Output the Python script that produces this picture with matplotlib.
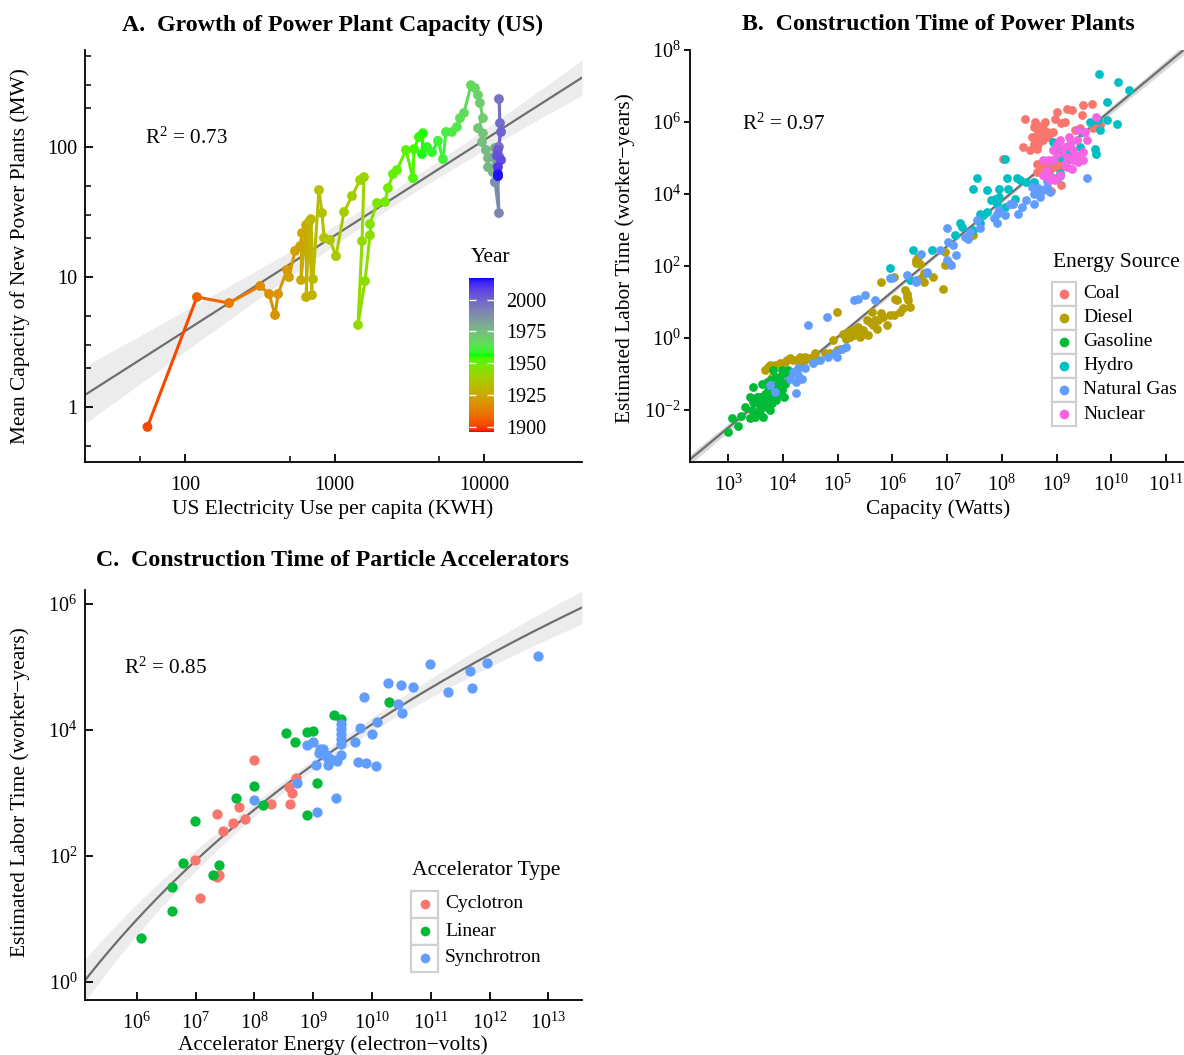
import numpy as np
import matplotlib
matplotlib.use('Agg')
import matplotlib.pyplot as plt
from matplotlib.collections import LineCollection
from matplotlib.colors import ListedColormap, Normalize
from matplotlib.patches import Rectangle
from matplotlib.lines import Line2D
import matplotlib.cm as cm

plt.rcParams['font.family'] = ['Liberation Serif', 'DejaVu Serif']
plt.rcParams['mathtext.fontset'] = 'custom'
plt.rcParams['mathtext.rm'] = 'Liberation Serif'
plt.rcParams['mathtext.it'] = 'Liberation Serif:italic'
plt.rcParams['mathtext.bf'] = 'Liberation Serif:bold'

# ---------------- Panel A data ----------------
years_A = [1902, 1907, 1912, 1917, 1918, 1919, 1920, 1921, 1922, 1923, 1924, 1925, 1926,
           1927, 1928, 1929, 1930, 1931, 1932, 1933, 1934, 1935, 1936, 1937, 1938, 1939,
           1940, 1941, 1942, 1943, 1944, 1945, 1946, 1947, 1948, 1949, 1950, 1951, 1952,
           1953, 1954, 1955, 1956, 1957, 1958, 1959, 1960, 1961, 1962, 1963, 1964, 1965,
           1966, 1967, 1968, 1969, 1970, 1971, 1972, 1973, 1974, 1975, 1976, 1977, 1978,
           1979, 1980, 1982, 1988, 1990, 1992, 1993, 1994, 1996, 1998, 2000,
           2002, 2004, 2006, 2009, 2012, 2015, 2016]
kwh_per_capita = [56, 120, 197, 318, 365, 400, 419, 481, 496, 544, 588, 606, 597,
                  645, 645, 675, 707, 696, 718, 787, 825, 851, 933, 1023, 1158, 1309,
                  1482, 1575, 1528, 1436, 1600, 1727, 1727, 1923, 2176, 2278, 2461, 2618, 3006,
                  3350, 3403, 3674, 3908, 3846, 4155, 4487, 4921, 5318, 5570, 6107, 6592, 6904,
                  7345, 8184, 8706, 9120, 9397, 9842, 9120, 9842, 9700, 10310, 10640, 10640, 11480,
                  11850, 11480, 11850, 11850, 12600, 12300, 12600, 12600, 12600, 12800, 13000,
                  12400, 12220, 13000, 12410, 12410, 12400, 12410]
mean_capacity_mw = [0.70, 6.98, 6.28, 8.49, 7.37, 5.08, 7.37, 11.3, 9.95, 15.8, 17.2, 21.7, 9.44,
                    25.0, 6.98, 26.4, 7.23, 27.8, 9.60, 46.5, 30.9, 19.9, 19.2, 14.4, 31.5, 41.8,
                    55.5, 58.5, 18.8, 4.26, 9.27, 20.9, 25.4, 36.9, 37.6, 48.1, 61.7, 66.2, 94.4,
                    57.4, 96.0, 119, 127, 87.9, 99.5, 91.0, 111, 80.4, 130, 130, 142, 166,
                    182, 298, 283, 250, 217, 166, 139, 127, 109, 94.4, 81.9, 69.8, 63.8,
                    53.5, 83.3, 97.8, 53.5, 30.9, 70, 85, 100, 233, 152, 130,
                    95, 84.9, 79.1, 69.8, 59.6, 62, 59.6]
year_range = [1896, 2017]
cbar_ticks = [1900, 1925, 1950, 1975, 2000]

# ---------------- Panel B data (log10 values) ----------------
coal_log_watts = [8.42, 8.61, 8.64, 8.67, 8.70, 8.73, 8.79, 8.82, 8.85, 8.88, 8.94, 8.97, 9.00, 9.09, 9.16,
                  9.19, 9.28, 9.46, 9.49, 9.64, 9.34, 9.43, 9.67, 9.80, 8.55, 8.58, 8.52, 8.38, 8.03, 8.64,
                  8.70, 8.76, 8.82, 8.88, 8.94, 9.00, 9.09, 9.09, 9.09, 8.90, 8.64, 8.76, 8.61, 8.67, 8.76,
                  9.06, 8.58, 8.76, 8.64]
coal_log_labor = [6.09, 6.00, 5.86, 5.72, 5.63, 5.82, 6.00, 5.72, 5.58, 5.68, 5.72, 6.09, 6.28, 5.96, 6.00,
                  6.37, 6.33, 6.19, 6.46, 6.51, 5.77, 5.82, 5.82, 5.91, 5.58, 5.40, 5.21, 5.31, 4.96, 4.84,
                  4.75, 4.70, 4.80, 4.66, 4.84, 4.75, 4.94, 4.75, 4.24, 4.08, 4.61, 4.52, 5.49, 5.40, 5.91,
                  4.98, 5.86, 5.49, 5.26]

diesel_log_watts = [3.67, 3.76, 3.85, 3.95, 4.04, 3.79, 4.31, 4.40, 4.49, 4.59, 4.62, 4.31, 4.77, 4.86, 4.92,
                    4.98, 5.04, 5.13, 5.19, 5.26, 5.29, 5.35, 5.41, 5.47, 5.53, 5.59, 5.62, 5.65, 5.71, 5.74,
                    5.80, 5.83, 5.90, 5.96, 6.02, 6.08, 6.14, 6.20, 6.26, 6.29, 6.32, 5.79, 6.03, 6.44, 5.38,
                    5.50, 5.68, 5.56, 5.16, 4.19, 4.13, 4.07, 3.73, 6.23, 6.05, 6.44, 6.47, 6.50, 6.57, 6.75,
                    6.96, 6.96, 7.05, 6.93, 7.48, 6.53, 6.26, 6.57, 5.22, 5.32, 5.44, 5.10, 4.37, 4.98, 4.25]
diesel_log_labor = [-0.90, -0.76, -0.76, -0.71, -0.67, -1.08, -0.53, -0.53, -0.57, -0.43, -0.62, -0.76, -0.43, -0.43, -0.06,
                    0.72, -0.30, 0.07, 0.17, 0.21, 0.07, 0.17, 0.03, 0.21, 0.49, 0.45, 0.72, 0.35, 0.26, 0.49,
                    0.68, 0.59, 0.35, 0.63, 0.63, 1.05, 0.72, 0.82, 1.23, 1.05, 0.86, 1.56, 1.70, 2.07, 0.31,
                    0.12, 0.49, 0.07, -0.02, -0.62, -0.57, -0.62, -0.80, 1.32, 1.09, 2.16, 2.25, 2.06, 1.79, 1.70,
                    2.39, 2.02, 2.06, 1.37, 2.85, 1.65, 1.14, 1.56, 0.03, 0.26, 0.12, 0.12, -0.62, -0.34, -0.62]

gasoline_log_watts = [3.00, 3.06, 3.18, 3.24, 3.31, 3.40, 3.46, 3.45, 3.49, 3.52, 3.58, 3.58, 3.61, 3.64, 3.67,
                      3.70, 3.73, 3.76, 3.79, 3.82, 3.85, 3.88, 3.91, 3.95, 3.98, 4.01, 4.04, 4.07, 4.10, 3.71,
                      3.55, 3.76, 3.82, 3.88, 3.98, 3.64, 3.43, 3.52, 3.70, 3.79, 3.91, 4.04, 3.40]
gasoline_log_labor = [-2.61, -2.24, -2.44, -2.17, -1.92, -1.64, -1.36, -1.78, -2.19, -2.10, -2.01, -1.64, -1.27, -1.82, -1.55,
                      -1.92, -1.45, -1.18, -1.82, -1.64, -1.36, -1.73, -1.27, -1.08, -1.45, -1.64, -1.27, -0.99, -0.90, -1.68,
                      -1.82, -2.01, -0.90, -1.08, -0.90, -2.19, -2.01, -1.64, -1.22, -1.36, -1.55, -0.99, -2.24]

hydro_log_watts = [6.38, 6.72, 7.24, 7.27, 7.14, 7.48, 7.60, 7.66, 7.72, 7.60, 7.81, 7.88, 7.94, 7.91, 8.06,
                   8.24, 8.12, 8.27, 8.33, 8.45, 8.58, 7.48, 7.54, 7.72, 7.94, 8.09, 8.67, 8.82, 8.94, 9.03,
                   9.09, 9.16, 9.22, 9.25, 9.28, 9.43, 9.46, 9.61, 9.76, 9.80, 9.92, 9.92, 9.70, 9.73, 10.11,
                   9.78, 10.12, 10.33, 8.06, 5.96, 8.94, 9.06, 6.32]
hydro_log_labor = [2.44, 2.44, 3.18, 3.08, 2.85, 2.99, 3.18, 3.41, 3.50, 3.45, 3.83, 3.87, 3.92, 3.73, 3.64,
                   3.87, 4.15, 4.43, 4.38, 4.33, 4.33, 4.15, 4.45, 4.10, 4.15, 4.43, 4.15, 4.66, 5.45, 5.26,
                   5.03, 4.84, 5.12, 4.98, 5.21, 5.31, 5.72, 6.00, 6.05, 5.77, 6.05, 6.56, 5.26, 5.12, 5.94,
                   7.33, 7.11, 6.88, 4.98, 1.93, 4.94, 4.57, 1.60]

gas_log_watts = [4.13, 4.19, 4.24, 4.28, 4.34, 4.23, 4.40, 4.46, 4.55, 4.68, 4.80, 4.83, 4.95, 5.07, 5.16,
                 5.29, 5.38, 5.50, 5.68, 5.96, 6.44, 4.98, 4.28, 3.85, 3.76, 5.99, 6.53, 6.87, 6.99, 7.08,
                 7.17, 6.99, 7.02, 7.33, 7.42, 7.54, 7.60, 7.85, 7.91, 7.94, 8.06, 8.15, 8.21, 8.30, 8.36,
                 8.45, 8.58, 8.58, 8.70, 8.76, 8.82, 8.88, 8.94, 9.00, 9.55, 8.55, 7.91, 7.39, 7.11, 6.63,
                 6.44, 6.26, 6.63, 8.67, 8.82, 8.94, 9.06]
gas_log_labor = [-1.13, -0.94, -1.22, -1.04, -1.13, -1.53, -0.85, 0.35, -0.71, -0.62, 0.57, -0.53, -0.43, -0.30, -0.25,
                 1.05, 1.07, 1.19, 1.05, 1.65, 1.56, -0.53, -0.85, -1.50, -1.31, 1.65, 2.34, 2.44, 2.16, 2.02,
                 2.30, 3.04, 2.67, 2.81, 2.95, 3.27, 3.04, 3.32, 3.18, 3.55, 3.41, 3.73, 3.73, 3.45, 3.64,
                 3.83, 3.73, 4.01, 3.92, 4.10, 4.20, 4.06, 4.43, 4.43, 4.43, 4.20, 3.45, 2.76, 2.58, 1.83,
                 1.60, 1.74, 1.79, 4.17, 4.36, 4.45, 4.50]

nuclear_log_watts = [8.94, 9.00, 9.06, 9.16, 9.22, 9.25, 9.31, 9.37, 9.40, 9.43, 9.49, 9.40, 9.31, 9.19, 9.09,
                     8.94, 8.85, 8.82, 8.76, 8.88, 8.97, 9.06, 9.19, 9.28, 9.34, 9.52, 9.55, 9.73, 9.49, 9.16,
                     9.00, 8.88, 8.76]
nuclear_log_labor = [5.21, 5.40, 5.49, 5.31, 5.58, 5.40, 5.21, 5.49, 5.77, 5.08, 4.94, 4.89, 4.94, 5.03, 5.17,
                     4.94, 4.94, 4.66, 4.52, 4.47, 4.38, 4.52, 4.75, 4.70, 5.03, 5.72, 5.49, 6.14, 5.17, 4.84,
                     5.12, 4.38, 4.94]

# ---------------- Panel C data (log10 values) ----------------
cyclotron_log_ev = [7.08, 6.99, 7.36, 7.39, 7.47, 7.64, 7.37, 7.73, 7.84, 7.99, 8.29, 8.60, 8.58, 8.64, 8.70]
cyclotron_log_labor = [1.33, 1.94, 1.67, 1.69, 2.40, 2.52, 2.67, 2.78, 2.59, 3.52, 2.83, 2.82, 3.09, 2.99, 3.24]

linear_log_ev = [6.07, 6.60, 6.60, 6.78, 6.99, 7.30, 7.39, 7.69, 7.99, 8.14, 8.54, 8.69, 8.89, 8.99, 9.07,
                 8.90, 9.36, 9.47, 10.29]
linear_log_labor = [0.70, 1.13, 1.51, 1.88, 2.56, 1.69, 1.86, 2.92, 3.11, 2.80, 3.95, 3.80, 3.97, 3.98, 3.15,
                    2.65, 4.23, 4.17, 4.44]

synchrotron_log_ev = [7.99, 8.73, 9.07, 9.39, 9.04, 9.25, 9.17, 9.12, 9.23, 8.90, 8.99, 9.39, 9.10, 9.16, 9.22,
                      9.26, 9.40, 9.47, 9.47, 9.47, 9.47, 9.47, 9.47, 9.71, 9.79, 10.00, 10.09, 9.77, 9.90, 10.07,
                      9.87, 10.27, 10.49, 10.69, 10.44, 10.51, 10.99, 11.29, 11.67, 11.70, 11.95, 12.83]
synchrotron_log_labor = [2.88, 3.15, 2.70, 2.92, 3.44, 3.44, 3.62, 3.70, 3.57, 3.76, 3.81, 3.52, 3.63, 3.70, 3.60,
                         3.55, 3.51, 3.60, 4.10, 4.02, 3.94, 3.86, 3.78, 3.81, 4.03, 3.93, 4.13, 3.49, 3.48, 3.42,
                         4.52, 4.75, 4.71, 4.68, 4.41, 4.26, 5.04, 4.60, 4.93, 4.67, 5.06, 5.17]

# ---------------- helpers ----------------
W, H = 1184, 1055
fig = plt.figure(figsize=(W / 100, H / 100), dpi=100)


def px_axes(l, t, r, b):
    return fig.add_axes([l / W, 1 - b / H, (r - l) / W, (b - t) / H])


def fx(x):
    return x / W


def fy(y):
    return 1 - y / H


def srgb_to_lab(c):
    c = np.asarray(c, float)
    lin = np.where(c <= 0.04045, c / 12.92, ((c + 0.055) / 1.055) ** 2.4)
    M = np.array([[0.4124, 0.3576, 0.1805], [0.2126, 0.7152, 0.0722], [0.0193, 0.1192, 0.9505]])
    xyz = M @ lin / np.array([0.95047, 1.0, 1.08883])
    f = np.where(xyz > 216 / 24389, np.cbrt(xyz), (24389 / 27 * xyz + 16) / 116)
    return np.array([116 * f[1] - 16, 500 * (f[0] - f[1]), 200 * (f[1] - f[2])])


def lab_to_srgb(lab):
    L, a, b = lab
    fy_ = (L + 16) / 116
    fx_ = fy_ + a / 500
    fz_ = fy_ - b / 200
    def finv(t):
        return t ** 3 if t ** 3 > 216 / 24389 else (116 * t - 16) / (24389 / 27)
    xyz = np.array([finv(fx_), finv(fy_), finv(fz_)]) * np.array([0.95047, 1.0, 1.08883])
    Minv = np.array([[3.2406, -1.5372, -0.4986], [-0.9689, 1.8758, 0.0415], [0.0557, -0.2040, 1.0570]])
    lin = np.clip(Minv @ xyz, 0, 1)
    return np.where(lin <= 0.0031308, 12.92 * lin, 1.055 * lin ** (1 / 2.4) - 0.055).clip(0, 1)


anchors = [srgb_to_lab(c) for c in [(1, 0, 0), (0, 1, 0), (0, 0, 1)]]
cols = []
for t in np.linspace(0, 1, 256):
    if t <= 0.5:
        u = t / 0.5
        lab = anchors[0] * (1 - u) + anchors[1] * u
    else:
        u = (t - 0.5) / 0.5
        lab = anchors[1] * (1 - u) + anchors[2] * u
    cols.append(lab_to_srgb(lab))
year_cmap = ListedColormap(cols)


def fit_band(lx, ly, grid, basis):
    lx = np.asarray(lx, float)
    ly = np.asarray(ly, float)
    X = basis(lx)
    coef, *_ = np.linalg.lstsq(X, ly, rcond=None)
    resid = ly - X @ coef
    dof = len(lx) - X.shape[1]
    s2 = resid @ resid / dof
    XtXi = np.linalg.inv(X.T @ X)
    G = basis(grid)
    yg = G @ coef
    se = np.sqrt(np.einsum('ij,jk,ik->i', G, XtXi, G) * s2)
    t = 1.96 + 2.4 / dof
    return yg, yg - t * se, yg + t * se


def linear_basis(v):
    return np.column_stack([np.ones_like(v), v])


def loglin_basis(v):
    return np.column_stack([np.ones_like(v), np.log(v)])


FIT_LINE = '#6e6e6e'
RIBBON = '#ececec'
TITLE_FS = 17.2
LAB_FS = 15.4
TICK_FS = 14.5
R2_FS = 15.2


def style_axes(ax, direction):
    for s in ['top', 'right']:
        ax.spines[s].set_visible(False)
    for s in ['left', 'bottom']:
        ax.spines[s].set_linewidth(1.3)
        ax.spines[s].set_color('black')
    ax.tick_params(which='major', direction=direction, length=6, width=1.3, labelsize=TICK_FS)
    ax.tick_params(which='minor', direction=direction, length=4, width=1.1)
    ax.set_facecolor('none')


def label_axes(xlabel, xc, yc, ylabel, yxc, yyc):
    fig.text(fx(xc), fy(yc), xlabel, ha='center', va='center', fontsize=LAB_FS)
    fig.text(fx(yxc), fy(yyc), ylabel, ha='center', va='center', rotation=90, fontsize=LAB_FS)


# ================= Panel A =================
axA = px_axes(85, 50, 582, 462)
axA.set_xscale('log')
axA.set_yscale('log')
axA.set_xlim(21.4, 45300)
axA.set_ylim(0.376, 555)
style_axes(axA, 'in')
axA.set_xticks([100, 1000, 10000])
axA.set_xticklabels(['100', '1000', '10000'])
axA.set_xticks([50, 500, 5000], minor=True)
axA.set_yticks([1, 10, 100])
axA.set_yticklabels(['1', '10', '100'])
axA.set_yticks([0.5, 2, 3, 5, 20, 30, 50, 200, 300, 500], minor=True)
axA.xaxis.set_minor_formatter(plt.NullFormatter())
axA.yaxis.set_minor_formatter(plt.NullFormatter())
axA.tick_params(axis='x', which='major', pad=10)
axA.tick_params(axis='y', which='major', pad=5.5)

gridA = np.linspace(np.log10(21.4), np.log10(45300), 200)
yA, loA, hiA = fit_band(np.log10(kwh_per_capita), np.log10(mean_capacity_mw), gridA, linear_basis)
axA.fill_between(10 ** gridA, 10 ** loA, 10 ** hiA, color=RIBBON, lw=0, zorder=1)
axA.plot(10 ** gridA, 10 ** yA, color=FIT_LINE, lw=1.6, zorder=2)

normA = Normalize(vmin=year_range[0], vmax=year_range[1])
xa = np.array(kwh_per_capita, float)
ya = np.array(mean_capacity_mw, float)
segs = [[(xa[i], ya[i]), (xa[i + 1], ya[i + 1])] for i in range(len(xa) - 1)]
lc = LineCollection(segs, colors=[year_cmap(normA(y)) for y in years_A[:-1]], linewidths=2.2, zorder=3,
                    capstyle='round')
axA.add_collection(lc)
axA.scatter(xa, ya, c=years_A, cmap=year_cmap, norm=normA, s=50, lw=0, zorder=4)

label_axes('US Electricity Use per capita (KWH)', 333, 509,
           'Mean Capacity of New Power Plants (MW)', 20, 256)
fig.text(fx(333), fy(25), 'A.  Growth of Power Plant Capacity (US)', ha='center', va='center',
         fontsize=TITLE_FS, fontweight='bold')
fig.text(fx(145), fy(138), r'R$^2$ = 0.73', ha='left', va='center', fontsize=R2_FS)

# colorbar
cax = px_axes(469, 278, 494, 432)
sm = cm.ScalarMappable(norm=normA, cmap=year_cmap)
cb = fig.colorbar(sm, cax=cax, ticks=cbar_ticks)
cb.outline.set_visible(False)
cax.tick_params(direction='in', color='white', length=5, width=1, left=True, right=True,
                labelsize=TICK_FS, pad=9)
fig.text(fx(471), fy(257), 'Year', ha='left', va='center', fontsize=15.5)

# ================= Panel B =================
axB = px_axes(690, 50, 1184, 462)
style_axes(axB, 'out')
axB.set_xlim(2.30, 11.33)
axB.set_ylim(-3.45, 8.0)
bx_ticks = [3, 4, 5, 6, 7, 8, 9, 10, 11]
by_ticks = [-2, 0, 2, 4, 6, 8]
axB.set_xticks(bx_ticks)
axB.set_xticklabels([r'$10^{%d}$' % v for v in bx_ticks])
axB.set_yticks(by_ticks)
axB.set_yticklabels([r'$10^{%d}$' % v for v in by_ticks])
axB.tick_params(axis='x', direction='in', pad=9)
axB.tick_params(axis='y', length=4, pad=2.5)

gridB = np.linspace(2.30, 11.33, 200)
allx = np.concatenate([coal_log_watts, diesel_log_watts, gasoline_log_watts, hydro_log_watts,
                       gas_log_watts, nuclear_log_watts])
ally = np.concatenate([coal_log_labor, diesel_log_labor, gasoline_log_labor, hydro_log_labor,
                       gas_log_labor, nuclear_log_labor])
yB, loB, hiB = fit_band(allx, ally, gridB, linear_basis)
axB.fill_between(gridB, loB, hiB, color='#d9d9d9', lw=0, zorder=1)
axB.plot(gridB, yB, color=FIT_LINE, lw=1.6, zorder=2)

b_series = [('Coal', coal_log_watts, coal_log_labor, '#F8766D'),
            ('Diesel', diesel_log_watts, diesel_log_labor, '#B79F00'),
            ('Gasoline', gasoline_log_watts, gasoline_log_labor, '#00BA38'),
            ('Hydro', hydro_log_watts, hydro_log_labor, '#00BFC4'),
            ('Natural Gas', gas_log_watts, gas_log_labor, '#619CFF'),
            ('Nuclear', nuclear_log_watts, nuclear_log_labor, '#F564E3')]
for name, xs, ys, col in b_series:
    axB.scatter(xs, ys, s=40, color=col, lw=0, zorder=3)

label_axes('Capacity (Watts)', 938, 509, 'Estimated Labor Time (worker\u2212years)', 625, 258)
fig.text(fx(938), fy(25), 'B.  Construction Time of Power Plants', ha='center', va='center',
         fontsize=TITLE_FS, fontweight='bold')
fig.text(fx(742), fy(124), r'R$^2$ = 0.97', ha='left', va='center', fontsize=R2_FS)


def draw_legend(title, entries, x0, ytitle, y0, step, keyw):
    fig.text(fx(x0 + 1), fy(ytitle), title, ha='left', va='center', fontsize=15.5)
    for i, (name, col) in enumerate(entries):
        yc = y0 + i * step
        rect = Rectangle((fx(x0), fy(yc + step / 2)), keyw / W, step / H, transform=fig.transFigure,
                         facecolor='white', edgecolor='#d0d0d0', lw=1.6)
        fig.add_artist(rect)
        fig.add_artist(Line2D([fx(x0 + keyw / 2)], [fy(yc)], transform=fig.transFigure, marker='o',
                              markersize=7, color=col, markeredgewidth=0, linestyle='none'))
        fig.text(fx(x0 + keyw + 7), fy(yc), name, ha='left', va='center', fontsize=14)


draw_legend('Energy Source', [(n, c) for n, _, _, c in b_series], 1052, 262, 294, 24, 24)

# ================= Panel C =================
axC = px_axes(85, 590, 582, 1000)
style_axes(axC, 'in')
axC.set_xlim(5.12, 13.57)
axC.set_ylim(-0.29, 6.22)
cx_ticks = [6, 7, 8, 9, 10, 11, 12, 13]
cy_ticks = [0, 2, 4, 6]
axC.set_xticks(cx_ticks)
axC.set_xticklabels([r'$10^{%d}$' % v for v in cx_ticks])
axC.set_yticks(cy_ticks)
axC.set_yticklabels([r'$10^{%d}$' % v for v in cy_ticks])
axC.tick_params(axis='x', pad=9)
axC.tick_params(axis='y', pad=5.5)

gridC = np.linspace(5.12, 13.57, 200)
cx_all = np.concatenate([cyclotron_log_ev, linear_log_ev, synchrotron_log_ev])
cy_all = np.concatenate([cyclotron_log_labor, linear_log_labor, synchrotron_log_labor])
yC, loC, hiC = fit_band(cx_all, cy_all, gridC, loglin_basis)
axC.fill_between(gridC, loC, hiC, color=RIBBON, lw=0, zorder=1)
axC.plot(gridC, yC, color=FIT_LINE, lw=1.6, zorder=2)

c_series = [('Cyclotron', cyclotron_log_ev, cyclotron_log_labor, '#F8766D'),
            ('Linear', linear_log_ev, linear_log_labor, '#00BA38'),
            ('Synchrotron', synchrotron_log_ev, synchrotron_log_labor, '#619CFF')]
for name, xs, ys, col in c_series:
    axC.scatter(xs, ys, s=55, color=col, lw=0, zorder=3)

label_axes('Accelerator Energy (electron\u2212volts)', 333, 1045,
           'Estimated Labor Time (worker\u2212years)', 20, 792)
fig.text(fx(333), fy(561), 'C.  Construction Time of Particle Accelerators', ha='center', va='center',
         fontsize=TITLE_FS, fontweight='bold')
fig.text(fx(124), fy(668), r'R$^2$ = 0.85', ha='left', va='center', fontsize=R2_FS)

draw_legend('Accelerator Type', [(n, c) for n, _, _, c in c_series], 411, 870, 904, 27, 27)

fig.savefig('out.png', dpi=100)
